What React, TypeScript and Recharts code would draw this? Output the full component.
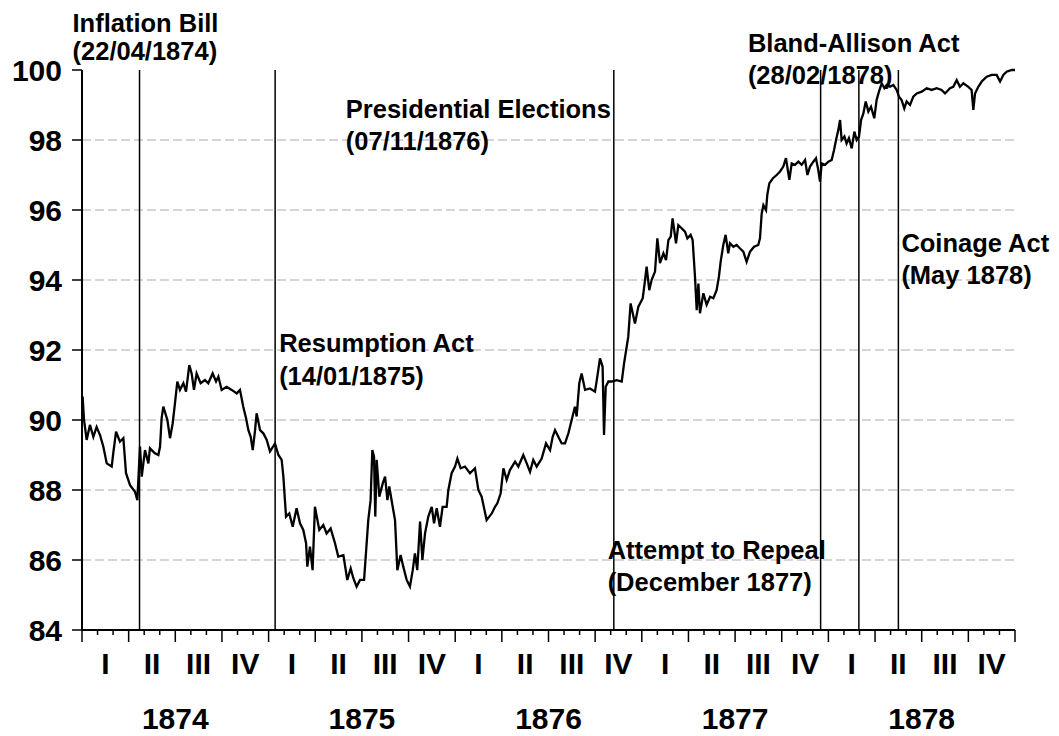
import React from 'react';
import { LineChart, Line, XAxis, YAxis, CartesianGrid, ReferenceLine } from 'recharts';

const FONT = '"Liberation Sans", Arial, Helvetica, sans-serif';

// ---- categories / tick labels ----
const years = ['1874', '1875', '1876', '1877', '1878'];
const quarters = ['I', 'II', 'III', 'IV'];
const yTicks = [84, 86, 88, 90, 92, 94, 96, 98, 100];
const gridValues = [86, 88, 90, 92, 94, 96, 98];

// ---- series: [months since Jan 1874, index value] ----
const s1874: [number, number][] = [
  [0.04, 90.67], [0.13, 90.0], [0.3, 89.43], [0.51, 89.86], [0.73, 89.52], [0.94, 89.8],
  [1.16, 89.57], [1.37, 89.24], [1.59, 88.76], [1.91, 88.67], [2.01, 89.05],
  [2.19, 89.67], [2.44, 89.38], [2.66, 89.48], [2.83, 88.48], [3.09, 88.14], [3.41, 87.95],
  [3.56, 87.71], [3.73, 89.24], [3.84, 88.38], [4.05, 89.14], [4.27, 88.76], [4.37, 89.19],
  [4.69, 89.05], [4.91, 89.0], [5.02, 89.24], [5.12, 90.05], [5.23, 90.38], [5.49, 90.0],
  [5.66, 89.48], [5.83, 89.9], [5.98, 90.48], [6.13, 91.1], [6.3, 90.86],
  [6.52, 91.05], [6.69, 90.81], [6.9, 91.57], [7.05, 91.33], [7.2, 90.86], [7.37, 91.33],
  [7.63, 91.05], [7.91, 91.14], [8.12, 91.05], [8.4, 91.33], [8.62, 91.1], [8.77, 91.24],
  [8.98, 90.86], [9.3, 90.95], [9.63, 90.86], [9.95, 90.76], [10.16, 90.86], [10.37, 90.38],
  [10.55, 90.05], [10.7, 89.71], [10.85, 89.52], [10.98, 89.14],
  [11.13, 89.71], [11.23, 90.19], [11.45, 89.71], [11.66, 89.62], [11.88, 89.43],
];
const s1875: [number, number][] = [
  [12.09, 89.1], [12.41, 89.33], [12.63, 89.0], [12.84, 88.86], [12.95, 88.38], [13.05, 87.71],
  [13.12, 87.24], [13.33, 87.33], [13.55, 86.95], [13.8, 87.48], [14.02, 87.05], [14.23, 86.86],
  [14.41, 86.48], [14.49, 85.81], [14.66, 86.38], [14.83, 85.71], [14.98, 87.52], [15.26, 86.86],
  [15.52, 87.0], [15.73, 86.76], [15.99, 86.9], [16.27, 86.48], [16.48, 86.1], [16.81, 86.14],
  [17.06, 85.43], [17.28, 85.76], [17.45, 85.48], [17.66, 85.24], [17.88, 85.43],
  [18.14, 85.43], [18.26, 86.19], [18.41, 87.14], [18.56, 87.71], [18.67, 89.14],
  [18.78, 88.95], [18.86, 87.24], [18.95, 88.86], [19.12, 87.81], [19.34, 88.19], [19.49, 88.38],
  [19.64, 87.71], [19.76, 88.1], [19.98, 87.52], [20.13, 87.14], [20.28, 85.71],
  [20.49, 86.14], [20.66, 85.81], [20.88, 85.43], [21.09, 85.24], [21.27, 85.71], [21.41, 86.19],
  [21.56, 85.71], [21.74, 87.1], [21.89, 86.0], [22.06, 86.76], [22.27, 87.24],
  [22.49, 87.52], [22.64, 87.05], [22.81, 87.48], [23.02, 86.95], [23.19, 87.52], [23.45, 87.52],
  [23.56, 88.0], [23.77, 88.48],
];
const s1876: [number, number][] = [
  [23.99, 88.67], [24.14, 88.9], [24.35, 88.62], [24.63, 88.67], [24.95, 88.48], [25.27, 88.62],
  [25.49, 88.0], [25.7, 87.81], [26.02, 87.14], [26.35, 87.33], [26.56, 87.52],
  [26.71, 87.62], [26.92, 87.9], [27.1, 88.62], [27.31, 88.29], [27.52, 88.57], [27.85, 88.81],
  [28.06, 88.67], [28.38, 89.0], [28.6, 88.76], [28.81, 88.52], [29.02, 88.86], [29.24, 88.67],
  [29.56, 88.9], [29.84, 89.33], [30.1, 89.14], [30.27, 89.52], [30.42, 89.71], [30.63, 89.52],
  [30.85, 89.33], [31.06, 89.33], [31.28, 89.62], [31.49, 90.0], [31.7, 90.38], [31.81, 90.1],
  [31.98, 91.05], [32.13, 91.33], [32.35, 90.86], [32.67, 90.9], [32.99, 90.81], [33.14, 91.24],
  [33.31, 91.76], [33.48, 91.52], [33.57, 89.57], [33.68, 90.95], [33.85, 91.1], [34.06, 91.1],
  [34.38, 91.14], [34.71, 91.1], [34.86, 91.62], [35.03, 92.1], [35.13, 92.38], [35.28, 93.33],
  [35.56, 92.76], [35.78, 93.24],
];
const s1877: [number, number][] = [
  [36.06, 93.48], [36.21, 94.0], [36.31, 94.38], [36.48, 93.71], [36.63, 94.0], [36.85, 94.24],
  [37.0, 95.19], [37.17, 94.48], [37.39, 94.76], [37.56, 94.57], [37.71, 95.14], [37.86, 95.24],
  [37.98, 95.76], [38.2, 95.05], [38.35, 95.57], [38.56, 95.48], [38.78, 95.38], [38.93, 95.19],
  [39.14, 95.29], [39.27, 95.14], [39.42, 94.1], [39.53, 93.14], [39.64, 93.9], [39.74, 93.05],
  [39.96, 93.62], [40.17, 93.29], [40.39, 93.52], [40.6, 93.48], [40.81, 93.71],
  [40.96, 94.1], [41.07, 94.52], [41.24, 95.0], [41.39, 95.29], [41.56, 94.76], [41.67, 95.05],
  [41.89, 94.95], [42.1, 95.0], [42.32, 94.9], [42.53, 94.81], [42.74, 94.52], [42.96, 94.81],
  [43.22, 94.95], [43.49, 95.0], [43.6, 95.19], [43.71, 95.9], [43.82, 96.14], [43.99, 96.0],
  [44.07, 96.43], [44.2, 96.76], [44.42, 96.9], [44.67, 97.0], [44.89, 97.1], [45.1, 97.24],
  [45.27, 97.48], [45.49, 96.86], [45.64, 97.33], [45.85, 97.29], [46.07, 97.38], [46.28, 97.29],
  [46.5, 97.43], [46.65, 97.0], [46.82, 97.24], [47.03, 97.38], [47.2, 97.48], [47.35, 97.14],
  [47.46, 96.81], [47.57, 97.33], [47.78, 97.29],
];
const s1878: [number, number][] = [
  [48.0, 97.38], [48.21, 97.43], [48.36, 97.71], [48.49, 98.0], [48.64, 98.29], [48.75, 98.57],
  [48.85, 98.0], [49.03, 98.1], [49.17, 97.9], [49.32, 98.05], [49.5, 97.76], [49.67, 98.24],
  [49.82, 98.0], [49.97, 98.1], [50.1, 98.57], [50.25, 98.76], [50.4, 99.1], [50.57, 98.81],
  [50.74, 98.95], [50.95, 98.62], [51.1, 99.14], [51.25, 99.38], [51.43, 99.62], [51.6, 99.48],
  [51.75, 99.57], [51.96, 99.52], [52.18, 99.57], [52.39, 99.43], [52.54, 99.24], [52.71, 99.14],
  [52.88, 98.9], [53.03, 99.1], [53.25, 99.0], [53.46, 99.24], [53.68, 99.33], [54.0, 99.38],
  [54.32, 99.48], [54.64, 99.43], [54.96, 99.48], [55.28, 99.43], [55.5, 99.33], [55.82, 99.48],
  [56.03, 99.52], [56.25, 99.71], [56.46, 99.52], [56.68, 99.62], [57.0, 99.52], [57.21, 99.43],
  [57.32, 98.86], [57.43, 99.33], [57.64, 99.52], [57.86, 99.67], [58.18, 99.81], [58.5, 99.86],
  [58.82, 99.86], [59.04, 99.67], [59.25, 99.86], [59.46, 99.95], [59.79, 100.0], [60.0, 100.0],
];

// ---- events (month offset since Jan 1874) ----
const eventMonths = [3.7, 12.42, 34.2, 47.5, 49.96, 52.5];
const eventTitles = ['Inflation Bill', 'Resumption Act', 'Presidential Elections', 'Attempt to Repeal', 'Bland-Allison Act', 'Coinage Act'];
const eventDates = ['(22/04/1874)', '(14/01/1875)', '(07/11/1876)', '(December 1877)', '(28/02/1878)', '(May 1878)'];

// label layout (pixel offset from the event line, baselines)
const labelLayout = [
  { dx: -67, y1: 32, y2: 60 },
  { dx: 4, y1: 352, y2: 385 },
  { dx: -268, y1: 118, y2: 150 },
  { dx: -213, y1: 559, y2: 591 },
  { dx: -111, y1: 52, y2: 84 },
  { dx: 3, y1: 252, y2: 284 },
];

const table = [...s1874, ...s1875, ...s1876, ...s1877, ...s1878].map(([m, v]) => ({ m, v }));
const nMonths = years.length * 12;
const monthTicks = Array.from({ length: nMonths + 1 }, (_, i) => i);
const quarterCenters = Array.from({ length: years.length * 4 }, (_, i) => i * 3 + 1.5);
const yearCenters = years.map((_, i) => i * 12 + 6);

const MonthTick = (props: any) => {
  const { x, y, payload } = props;
  const major = payload.value % 3 === 0;
  return <line x1={x} x2={x} y1={y} y2={y + (major ? 12 : 5)} stroke="#000" strokeWidth={1.5} />;
};

const labelStyle = { fontSize: 30, fontWeight: 'bold', fill: '#000', fontFamily: FONT } as any;

const makeLabel = (i: number) => (p: any) => {
  const vb = p.viewBox || {};
  const L = labelLayout[i];
  const x = (vb.x ?? 0) + L.dx;
  const common = {
    x,
    textAnchor: 'start' as any,
    fontFamily: FONT,
    fontSize: 25.5,
    fontWeight: 'bold' as any,
    fill: '#000',
  };
  return (
    <g>
      <text {...common} y={L.y1}>{eventTitles[i]}</text>
      <text {...common} y={L.y2}>{eventDates[i]}</text>
    </g>
  );
};

export default function App() {
  return (
    <div style={{ position: 'absolute', left: 0, top: 0, width: 1059, height: 736, background: '#fff' }}>
      <LineChart
        width={1059}
        height={736}
        data={table}
        margin={{ top: 70, right: 44, bottom: 0, left: 0 }}
      >
        <CartesianGrid
          xAxisId="m"
          vertical={false}
          horizontalValues={gridValues}
          stroke="#c8c8c8"
          strokeDasharray="9 4"
          strokeWidth={1.5}
        />
        <XAxis
          xAxisId="m"
          type="number"
          dataKey="m"
          domain={[0, nMonths]}
          ticks={monthTicks}
          interval={0}
          height={23}
          tickSize={0}
          tickMargin={0}
          tickLine={false}
          axisLine={{ stroke: '#000', strokeWidth: 2 }}
          tick={<MonthTick />}
        />
        <XAxis
          xAxisId="q"
          type="number"
          dataKey="m"
          domain={[0, nMonths]}
          ticks={quarterCenters}
          interval={0}
          height={55}
          tickSize={0}
          tickMargin={0}
          tickLine={false}
          axisLine={false}
          tickFormatter={(v: number) => quarters[Math.floor(v / 3) % 4]}
          tick={labelStyle}
        />
        <XAxis
          xAxisId="y"
          type="number"
          dataKey="m"
          domain={[0, nMonths]}
          ticks={yearCenters}
          interval={0}
          height={28}
          tickSize={0}
          tickMargin={0}
          tickLine={false}
          axisLine={false}
          tickFormatter={(v: number) => years[Math.floor(v / 12)]}
          tick={labelStyle}
        />
        <YAxis
          type="number"
          domain={[84, 100]}
          ticks={yTicks}
          interval={0}
          width={82}
          tickSize={10}
          tickMargin={10}
          tickLine={{ stroke: '#000', strokeWidth: 1.5 }}
          axisLine={{ stroke: '#000', strokeWidth: 2 }}
          tick={labelStyle}
        />
        {eventMonths.map((m, i) => (
          <ReferenceLine
            key={i}
            xAxisId="m"
            x={m}
            stroke="#000"
            strokeWidth={1.5}
            label={makeLabel(i)}
          />
        ))}
        <Line
          xAxisId="m"
          type="linear"
          dataKey="v"
          stroke="#000"
          strokeWidth={2.3}
          dot={false}
          activeDot={false}
          isAnimationActive={false}
        />
      </LineChart>
    </div>
  );
}
